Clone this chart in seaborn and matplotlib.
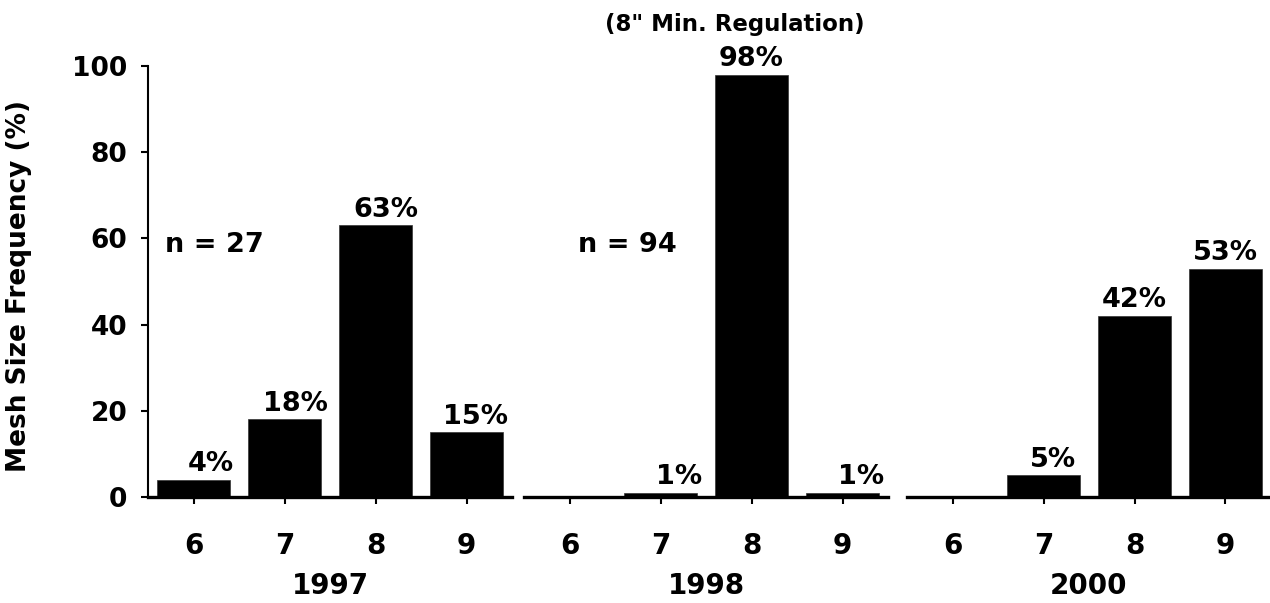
import matplotlib
matplotlib.use("Agg")
import matplotlib.pyplot as plt
import seaborn as sns
import pandas as pd

# ---- data ----
mesh_sizes = ["6", "7", "8", "9"]
years = ["1997", "1998", "2000"]
freq_1997 = [4, 18, 63, 15]
freq_1998 = [0, 1, 98, 1]
freq_2000 = [0, 5, 42, 53]
labels_1997 = ["4%", "18%", "63%", "15%"]
labels_1998 = ["", "1%", "98%", "1%"]
labels_2000 = ["", "5%", "42%", "53%"]
sample_sizes = ["n = 27", "n = 94", ""]
y_ticks = [0, 20, 40, 60, 80, 100]
title_text = '(8" Min. Regulation)'
y_title = "Mesh Size Frequency (%)"

sns.set_style("white")
plt.rcParams['font.family'] = ['DejaVu Sans']
plt.rcParams['font.weight'] = 'bold'
plt.rcParams['text.color'] = 'black'
plt.rcParams['axes.labelcolor'] = 'black'
plt.rcParams['xtick.color'] = 'black'
plt.rcParams['ytick.color'] = 'black'

fig = plt.figure(figsize=(12.7, 6.03), dpi=100)
W, H = 1270, 603
bottom = 1 - 497 / H
height = (497 - 66) / H
lefts = [148 / W, 524 / W, 907 / W]
width = 364 / W

series = [freq_1997, freq_1998, freq_2000]
labels = [labels_1997, labels_1998, labels_2000]
label_dx = [[0.19, 0.12, 0.11, 0.1], [0, 0.2, 0, 0.2], [0, 0.1, 0, 0]]

for i in range(3):
    ax = fig.add_axes([lefts[i], bottom, width, height])
    df = pd.DataFrame({"size": mesh_sizes, "freq": series[i]})
    sns.barplot(data=df, x="size", y="freq", order=mesh_sizes, color="black",
                saturation=1, width=0.8, ax=ax, edgecolor="#333333", linewidth=0.5)
    ax.set_xlim(-0.5, 3.5)
    ax.set_ylim(0, 100)
    for s in ["top", "right"]:
        ax.spines[s].set_visible(False)
    ax.spines["bottom"].set_linewidth(2.4)
    ax.spines["bottom"].set_color("black")
    ax.spines["left"].set_linewidth(1.5)
    ax.spines["left"].set_color("black")
    ax.tick_params(axis="x", direction="out", length=5, width=1.5, pad=20,
                   labelsize=20, bottom=True, colors="black")
    ax.set_xlabel(years[i], fontsize=20, fontweight="bold", labelpad=9, color="black")
    if i == 0:
        ax.set_yticks(y_ticks)
        ax.tick_params(axis="y", direction="out", length=5, width=1.5, pad=10,
                       labelsize=19, left=True, colors="black")
        ax.set_ylabel(y_title, fontsize=19, fontweight="bold", color="black")
        ax.yaxis.set_label_coords(-0.32, 0.49)
    else:
        ax.spines["left"].set_visible(False)
        ax.set_yticks([])
        ax.set_ylabel("")
    for j, (v, t) in enumerate(zip(series[i], labels[i])):
        if t:
            ax.text(j + label_dx[i][j], v + 0.6, t, ha="center", va="bottom",
                    fontsize=19.5, fontweight="bold", color="black")
    if sample_sizes[i]:
        ax.text(-0.31 if i == 0 else 0.09, 58.5, sample_sizes[i], ha="left",
                va="center", fontsize=19.5, fontweight="bold", color="black")

fig.text(735 / W, 1 - 25 / H, title_text, ha="center", va="center",
         fontsize=16.5, fontweight="bold", color="black")

fig.savefig("out.png", dpi=100)
